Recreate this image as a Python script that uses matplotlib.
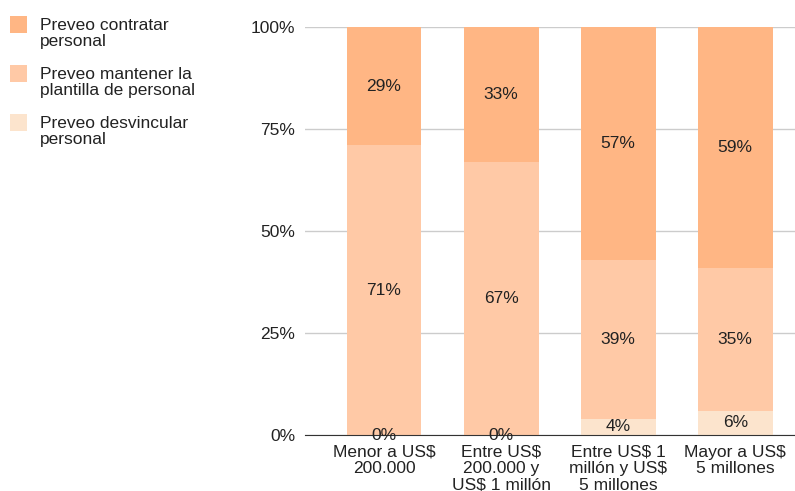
import matplotlib.pyplot as plt
from matplotlib.patches import Rectangle

plt.rcParams['font.family'] = ['Liberation Sans', 'DejaVu Sans']

categories = ['Menor a US$\n200.000', 'Entre US$\n200.000 y\nUS$ 1 millón',
              'Entre US$ 1\nmillón y US$\n5 millones', 'Mayor a US$\n5 millones']
desvincular = [0, 0, 4, 6]
mantener = [71, 67, 39, 35]
contratar = [29, 33, 57, 59]

series = [
    ('Preveo desvincular\npersonal', desvincular, '#fce4cd'),
    ('Preveo mantener la\nplantilla de personal', mantener, '#ffc9a6'),
    ('Preveo contratar\npersonal', contratar, '#ffb684'),
]

W, H = 795, 491
fig = plt.figure(figsize=(W / 100, H / 100), dpi=100)
ax = fig.add_axes([305 / W, 1 - 435 / H, 490 / W, 408 / H])

x = range(len(categories))
bottom = [0] * len(categories)
for label, vals, color in series:
    ax.bar(x, vals, bottom=bottom, width=0.64, color=color, zorder=2)
    for i, v in enumerate(vals):
        ax.text(i, bottom[i] + v / 2, f'{v}%', ha='center', va='center',
                fontsize=12.5, color='#222222', zorder=4)
    bottom = [b + v for b, v in zip(bottom, vals)]

ax.set_xlim(-0.675, 3.51)
ax.set_ylim(0, 100)
ax.set_yticks([0, 25, 50, 75, 100])
ax.set_yticklabels(['0%', '25%', '50%', '75%', '100%'])
ax.set_xticks(list(x))
ax.set_xticklabels(categories, linespacing=1.12)
ax.tick_params(length=0, labelsize=12.5, labelcolor='#222222')
ax.tick_params(axis='y', pad=7)
ax.tick_params(axis='x', pad=7)
ax.grid(axis='y', color='#cccccc', linewidth=1, zorder=0)
for s in ['top', 'right', 'left']:
    ax.spines[s].set_visible(False)
ax.spines['bottom'].set_color('#333333')
ax.spines['bottom'].set_zorder(3)

# legend, drawn by hand in pixel positions
for k, (label, vals, color) in enumerate(series[::-1]):
    top = 16 + 49 * k
    fig.patches.append(Rectangle((10 / W, 1 - (top + 17) / H), 17 / W, 17 / H,
                                 transform=fig.transFigure, facecolor=color,
                                 edgecolor='none'))
    fig.text(40 / W, 1 - (top + 2) / H, label, ha='left', va='top',
             fontsize=12.5, color='#222222', linespacing=1.12)

fig.savefig('out.png', dpi=100)
